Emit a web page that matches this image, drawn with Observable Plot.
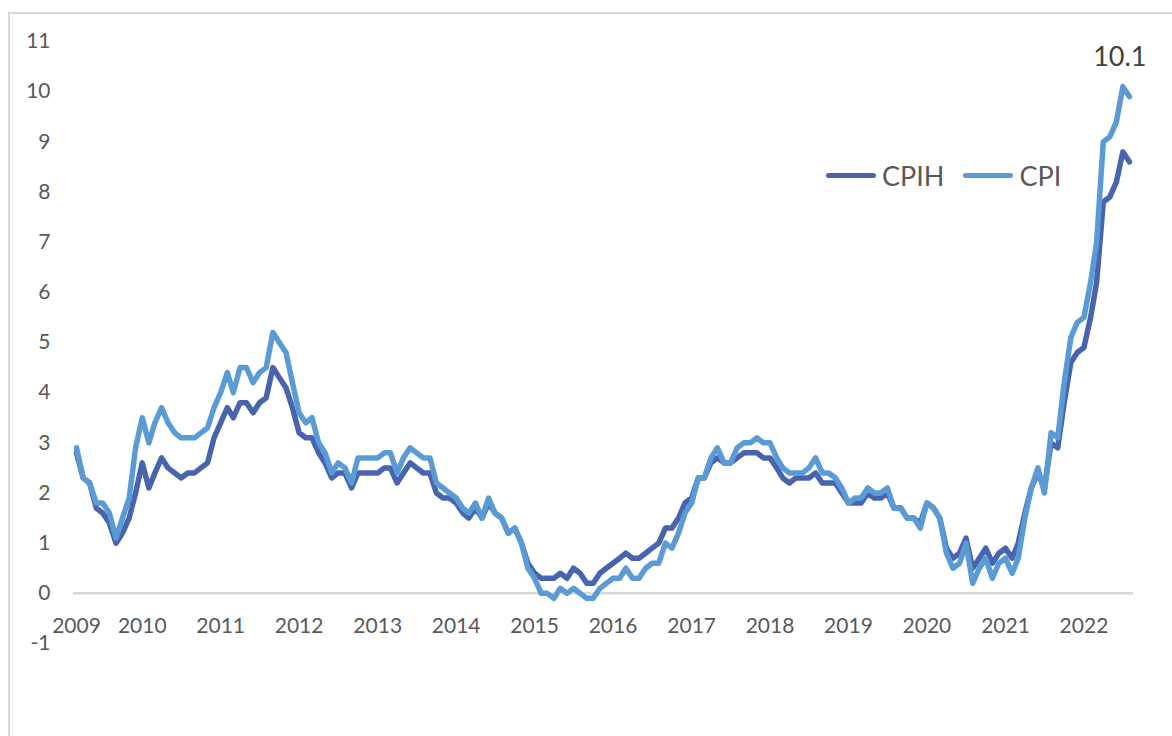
<!DOCTYPE html>
<html>
<head>
<meta charset="utf-8">
<script src="https://cdn.jsdelivr.net/npm/d3@7"></script>
<script src="https://cdn.jsdelivr.net/npm/@observablehq/plot@0.6"></script>
<style>
  html, body { margin: 0; padding: 0; background: #fff; }
  body { width: 1172px; height: 736px; overflow: hidden; position: relative; font-family: Lato, "Open Sans", sans-serif; }
  #frame { position: absolute; left: 8px; top: 12px; width: 1200px; height: 800px; border: 2px solid #d9d9d9; box-sizing: border-box; }
  #chart { position: absolute; left: 0; top: 0; }
  #legend { position: absolute; left: 826px; top: 159px; display: flex; align-items: center; font-size: 27px; color: #595959; }
  .sw { display: inline-block; width: 50px; height: 5.5px; border-radius: 3px; margin-right: 6px; }
  .item { display: flex; align-items: center; margin-right: 19px; }
</style>
</head>
<body>
<div id="frame"></div>
<div id="chart"></div>
<div id="legend"></div>
<script>
// Monthly series, March 2009 to August 2022 (annual % change)
const startMonth = "2009-03";
const endMonth = "2022-08";

const cpih = [
  2.8, 2.3, 2.2, 1.7, 1.6, 1.4, 1.0, 1.2, 1.5, 2.0,                 // 2009 Mar-Dec
  2.6, 2.1, 2.4, 2.7, 2.5, 2.4, 2.3, 2.4, 2.4, 2.5, 2.6, 3.1,       // 2010
  3.4, 3.7, 3.5, 3.8, 3.8, 3.6, 3.8, 3.9, 4.5, 4.3, 4.1, 3.7,       // 2011
  3.2, 3.1, 3.1, 2.8, 2.6, 2.3, 2.4, 2.4, 2.1, 2.4, 2.4, 2.4,       // 2012
  2.4, 2.5, 2.5, 2.2, 2.4, 2.6, 2.5, 2.4, 2.4, 2.0, 1.9, 1.9,       // 2013
  1.8, 1.6, 1.5, 1.7, 1.5, 1.8, 1.6, 1.5, 1.2, 1.3, 1.0, 0.6,       // 2014
  0.4, 0.3, 0.3, 0.3, 0.4, 0.3, 0.5, 0.4, 0.2, 0.2, 0.4, 0.5,       // 2015
  0.6, 0.7, 0.8, 0.7, 0.7, 0.8, 0.9, 1.0, 1.3, 1.3, 1.5, 1.8,       // 2016
  1.9, 2.3, 2.3, 2.6, 2.7, 2.6, 2.6, 2.7, 2.8, 2.8, 2.8, 2.7,       // 2017
  2.7, 2.5, 2.3, 2.2, 2.3, 2.3, 2.3, 2.4, 2.2, 2.2, 2.2, 2.0,       // 2018
  1.8, 1.8, 1.8, 2.0, 1.9, 1.9, 2.0, 1.7, 1.7, 1.5, 1.5, 1.4,       // 2019
  1.8, 1.7, 1.5, 0.9, 0.7, 0.8, 1.1, 0.5, 0.7, 0.9, 0.6, 0.8,       // 2020
  0.9, 0.7, 1.0, 1.6, 2.1, 2.4, 2.1, 3.0, 2.9, 3.8, 4.6, 4.8,       // 2021
  4.9, 5.5, 6.2, 7.8, 7.9, 8.2, 8.8, 8.6                            // 2022 Jan-Aug
];

const cpi = [
  2.9, 2.3, 2.2, 1.8, 1.8, 1.6, 1.1, 1.5, 1.9, 2.9,                 // 2009 Mar-Dec
  3.5, 3.0, 3.4, 3.7, 3.4, 3.2, 3.1, 3.1, 3.1, 3.2, 3.3, 3.7,       // 2010
  4.0, 4.4, 4.0, 4.5, 4.5, 4.2, 4.4, 4.5, 5.2, 5.0, 4.8, 4.2,       // 2011
  3.6, 3.4, 3.5, 3.0, 2.8, 2.4, 2.6, 2.5, 2.2, 2.7, 2.7, 2.7,       // 2012
  2.7, 2.8, 2.8, 2.4, 2.7, 2.9, 2.8, 2.7, 2.7, 2.2, 2.1, 2.0,       // 2013
  1.9, 1.7, 1.6, 1.8, 1.5, 1.9, 1.6, 1.5, 1.2, 1.3, 1.0, 0.5,       // 2014
  0.3, 0.0, 0.0, -0.1, 0.1, 0.0, 0.1, 0.0, -0.1, -0.1, 0.1, 0.2,    // 2015
  0.3, 0.3, 0.5, 0.3, 0.3, 0.5, 0.6, 0.6, 1.0, 0.9, 1.2, 1.6,       // 2016
  1.8, 2.3, 2.3, 2.7, 2.9, 2.6, 2.6, 2.9, 3.0, 3.0, 3.1, 3.0,       // 2017
  3.0, 2.7, 2.5, 2.4, 2.4, 2.4, 2.5, 2.7, 2.4, 2.4, 2.3, 2.1,       // 2018
  1.8, 1.9, 1.9, 2.1, 2.0, 2.0, 2.1, 1.7, 1.7, 1.5, 1.5, 1.3,       // 2019
  1.8, 1.7, 1.5, 0.8, 0.5, 0.6, 1.0, 0.2, 0.5, 0.7, 0.3, 0.6,       // 2020
  0.7, 0.4, 0.7, 1.5, 2.1, 2.5, 2.0, 3.2, 3.1, 4.2, 5.1, 5.4,       // 2021
  5.5, 6.2, 7.0, 9.0, 9.1, 9.4, 10.1, 9.9                           // 2022 Jan-Aug
];

const seriesNames = ["CPIH", "CPI"];
const seriesColors = ["#4864ae", "#5b9bd5"];
const yTicks = [-1, 0, 1, 2, 3, 4, 5, 6, 7, 8, 9, 10, 11];
const xTickLabels = ["2009", "2010", "2011", "2012", "2013", "2014", "2015", "2016", "2017", "2018", "2019", "2020", "2021", "2022"];

// Build table
const parse = d3.utcParse("%Y-%m");
const t0 = parse(startMonth), t1 = parse(endMonth);
const months = d3.utcMonth.range(t0, d3.utcMonth.offset(t1, 1));
const rows = [];
[cpih, cpi].forEach((vals, k) => vals.forEach((v, i) => rows.push({date: months[i], value: v, series: seriesNames[k]})));

// x tick positions: first label sits at the start of the series, others at January
const xTicks = xTickLabels.map((y, i) => i === 0 ? t0 : parse(y + "-01"));
const tickLabelByTime = new Map(xTicks.map((d, i) => [+d, xTickLabels[i]]));

const cpiRows = rows.filter(d => d.series === "CPI");
const peak = cpiRows.reduce((a, b) => (b.value > a.value ? b : a));

const fontFamily = "Lato, 'Open Sans', sans-serif";
const lineW = 5.5;

const chart = Plot.plot({
  width: 1172,
  height: 736,
  marginLeft: 76,
  marginRight: 43,
  marginTop: 41,
  marginBottom: 93,
  style: {fontFamily, background: "transparent", overflow: "visible"},
  x: {type: "utc", domain: [t0, t1]},
  y: {domain: [-1, 11]},
  marks: [
    Plot.ruleY([0], {stroke: "#d9d9d9", strokeWidth: 2.5, insetLeft: -3, insetRight: -4}),
    Plot.axisY({ticks: yTicks, tickFormat: d => String(d), tickSize: 0, tickPadding: 26, fontSize: 21, color: "#595959", label: null}),
    Plot.axisX({ticks: xTicks, tickFormat: d => tickLabelByTime.get(+d), tickSize: 0, tickPadding: -25, fontSize: 21, color: "#595959", label: null}),
    Plot.line(rows.filter(d => d.series === "CPIH"), {x: "date", y: "value", stroke: seriesColors[0], strokeWidth: lineW, strokeLinejoin: "round", strokeLinecap: "round"}),
    Plot.line(cpiRows, {x: "date", y: "value", stroke: seriesColors[1], strokeWidth: lineW, strokeLinejoin: "round", strokeLinecap: "round"}),
    Plot.text([peak], {x: "date", y: "value", text: d => d3.format(".1f")(d.value), dy: -29, dx: -3, fontSize: 27, fill: "#404040"})
  ]
});
document.getElementById("chart").appendChild(chart);

// Legend
const legend = document.getElementById("legend");
seriesNames.forEach((name, i) => {
  const item = document.createElement("div");
  item.className = "item";
  const sw = document.createElement("span");
  sw.className = "sw";
  sw.style.background = seriesColors[i];
  const label = document.createElement("span");
  label.textContent = name;
  item.appendChild(sw);
  item.appendChild(label);
  legend.appendChild(item);
});
</script>
</body>
</html>
